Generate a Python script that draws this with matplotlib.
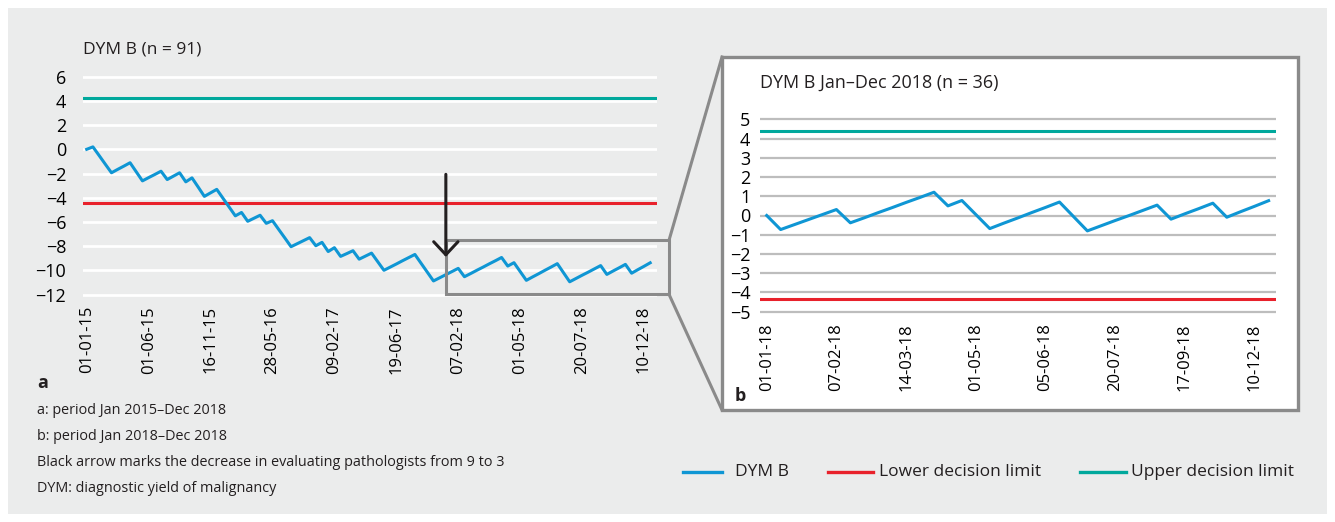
import matplotlib.pyplot as plt
from matplotlib.lines import Line2D
from matplotlib.patches import Rectangle

# CUSUM DYM B, Jan 2015 - Dec 2018 (panel a) and Jan - Dec 2018 (panel b)
dym_a = [0.00, 0.20, -0.51, -1.23, -1.94, -1.66, -1.39, -1.11, -1.86, -2.61,
         -2.34, -2.08, -1.81, -2.50, -2.22, -1.94, -2.69, -2.36, -3.12, -3.89,
         -3.60, -3.31, -4.04, -4.77, -5.50, -5.22, -5.95, -5.70, -5.45, -6.12,
         -5.90, -6.62, -7.33, -8.05, -7.80, -7.55, -7.30, -7.97, -7.69, -8.45,
         -8.13, -8.85, -8.62, -8.38, -9.08, -8.83, -8.58, -9.29, -10.00, -9.74,
         -9.48, -9.21, -8.95, -8.69, -9.42, -10.15, -10.88, -10.62, -10.36, -10.10,
         -9.84, -10.53, -10.27, -10.00, -9.74, -9.47, -9.21, -8.94, -9.65, -9.37,
         -10.10, -10.83, -10.55, -10.28, -10.00, -9.73, -9.45, -10.20, -10.95, -10.68,
         -10.41, -10.15, -9.88, -9.61, -10.34, -10.06, -9.79, -9.51, -10.24, -9.95,
         -9.67, -9.38]
dym_b = [0.00, -0.73, -0.47, -0.21, 0.05, 0.31, -0.38, -0.12, 0.15, 0.41,
         0.68, 0.94, 1.21, 0.50, 0.78, 0.05, -0.68, -0.40, -0.13, 0.15,
         0.42, 0.70, -0.05, -0.80, -0.53, -0.26, 0.00, 0.27, 0.54, -0.19,
         0.09, 0.36, 0.64, -0.09, 0.20, 0.48, 0.77]

ticks_a = [0, 10, 20, 30, 40, 50, 60, 70, 80, 90]
labels_a = ["01-01-15", "01-06-15", "16-11-15", "28-05-16", "09-02-17",
            "19-06-17", "07-02-18", "01-05-18", "20-07-18", "10-12-18"]
ticks_b = [0, 5, 10, 15, 20, 25, 30, 35]
labels_b = ["01-01-18", "07-02-18", "14-03-18", "01-05-18", "05-06-18",
            "20-07-18", "17-09-18", "10-12-18"]

lower_a, upper_a = -4.4, 4.2
lower_b, upper_b = -4.33, 4.38
arrow_x = 58

BLUE = "#0f96d4"
RED = "#e8212b"
TEAL = "#00a89c"
TXT = "#231f20"
GREY_BG = "#ebecec"
BOX = "#8a8a8a"

plt.rcParams["font.family"] = ["Open Sans", "DejaVu Sans"]
plt.rcParams["font.size"] = 12.5
plt.rcParams["text.color"] = TXT

W, H = 1335, 522
fig = plt.figure(figsize=(W / 100, H / 100), dpi=100, facecolor="white")


def box(l, t, r, b):
    # pixel box (top-left origin) -> figure fraction rect
    return [l / W, 1 - b / H, (r - l) / W, (b - t) / H]


def fx(x):
    return x / W


def fy(y):
    return 1 - y / H


# grey background panel
fig.add_artist(Rectangle((fx(8), fy(514)), fx(1319), (514 - 8) / H,
                         transform=fig.transFigure, facecolor=GREY_BG,
                         edgecolor="none", zorder=-10))

# ---- panel a
ax = fig.add_axes(box(83, 70.65, 657, 300.55))
ax.set_facecolor("none")
ax.set_xlim(-0.6, 92.1)
ax.set_ylim(-12.5, 6.5)
ax.set_yticks(range(-12, 7, 2))
for v in range(-12, 7, 2):
    ax.axhline(v, color="white", lw=2, zorder=1)
ax.axhline(upper_a, color=TEAL, lw=2.2, zorder=2)
ax.axhline(lower_a, color=RED, lw=2.2, zorder=2)
ax.plot(range(len(dym_a)), dym_a, color=BLUE, lw=2.2, zorder=3)
ax.set_xticks(ticks_a)
ax.set_xticklabels(labels_a, rotation=90, fontsize=12)
ax.tick_params(length=0, pad=4)
ax.tick_params(axis="y", pad=12, labelsize=13)
for s in ax.spines.values():
    s.set_visible(False)

ax.annotate("", xy=(arrow_x, -8.9), xytext=(arrow_x, -2.07),
            arrowprops=dict(arrowstyle="->,head_length=0.75,head_width=0.7",
                            color=TXT, lw=2.2, shrinkA=0, shrinkB=0), zorder=5)
ax.add_patch(Rectangle((arrow_x, -11.98), 94.07 - arrow_x, 11.98 - 7.52,
                       facecolor="none", edgecolor=BOX, lw=2.2, clip_on=False, zorder=4))

fig.text(fx(83), fy(50), "DYM B (n = 91)", fontsize=12.5, va="center", ha="left")
fig.text(fx(37), fy(383), "a", fontsize=13, fontweight="bold", va="center", ha="left")

# ---- panel b frame and connectors
fig.add_artist(Rectangle((fx(722), fy(410)), (1298 - 722) / W, (410 - 57) / H,
                         transform=fig.transFigure, facecolor="white",
                         edgecolor=BOX, lw=2.4, zorder=0))
fig.add_artist(Line2D([fx(669), fx(722)], [fy(240.3), fy(57)], transform=fig.transFigure,
                      color=BOX, lw=2.2))
fig.add_artist(Line2D([fx(669), fx(722)], [fy(294.3), fy(410)], transform=fig.transFigure,
                      color=BOX, lw=2.2))

axb = fig.add_axes(box(760, 114.5, 1276, 316.5))
axb.set_facecolor("none")
axb.set_xlim(-0.48, 36.53)
axb.set_ylim(-5.25, 5.25)
axb.set_yticks(range(-5, 6))
for v in range(-5, 6):
    axb.axhline(v, color="#bdbdbd", lw=1.6, zorder=1)
axb.axhline(upper_b, color=TEAL, lw=2.2, zorder=2)
axb.axhline(lower_b, color=RED, lw=2.2, zorder=2)
axb.plot(range(len(dym_b)), dym_b, color=BLUE, lw=2.2, zorder=3)
axb.set_xticks(ticks_b)
axb.set_xticklabels(labels_b, rotation=90, fontsize=12)
axb.tick_params(length=0, pad=5)
axb.tick_params(axis="y", pad=7, labelsize=13)
for s in axb.spines.values():
    s.set_visible(False)

fig.text(fx(760), fy(83), "DYM B Jan\u2013Dec 2018 (n = 36)", fontsize=13, va="center", ha="left")
fig.text(fx(735), fy(396), "b", fontsize=13, fontweight="bold", va="center", ha="left")

# ---- caption
caption = ["a: period Jan 2015\u2013Dec 2018",
           "b: period Jan 2018\u2013Dec 2018",
           "Black arrow marks the decrease in evaluating pathologists from 9 to 3",
           "DYM: diagnostic yield of malignancy"]
for i, line in enumerate(caption):
    fig.text(fx(37), fy(411 + 26 * i), line, fontsize=10.4, va="center", ha="left")

# ---- legend
legend_items = [("DYM B", BLUE, 683, 722, 735),
                ("Lower decision limit", RED, 828, 873, 879),
                ("Upper decision limit", TEAL, 1080, 1126, 1131)]
for name, col, x0, x1, xt in legend_items:
    fig.add_artist(Line2D([fx(x0), fx(x1)], [fy(472), fy(472)], transform=fig.transFigure,
                          color=col, lw=2.4))
    fig.text(fx(xt), fy(472), name, fontsize=12.5, va="center", ha="left")

plt.savefig("out.png", dpi=100, facecolor=fig.get_facecolor())
